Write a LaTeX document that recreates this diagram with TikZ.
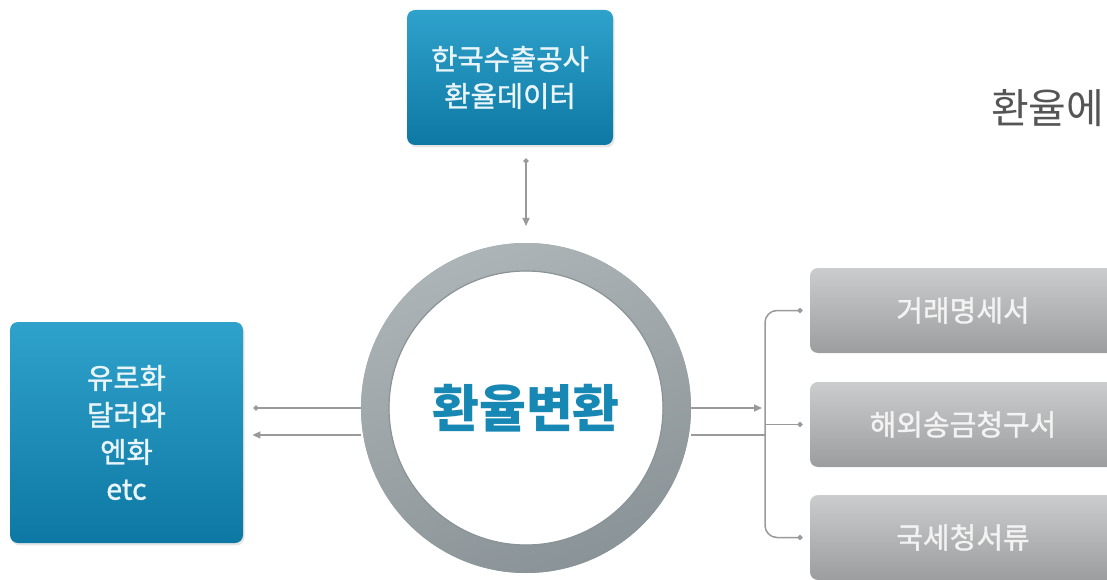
\documentclass[tikz,border=0pt]{standalone}
\usepackage{fontspec}
\setmainfont{Noto Sans CJK KR}
\newfontfamily\krmid{Noto Sans CJK KR}[FakeBold=1.2]
\usetikzlibrary{arrows.meta,shadows}
\definecolor{boxbluetop}{HTML}{2FA2CC}
\definecolor{boxbluebot}{HTML}{0D78A3}
\definecolor{docgraytop}{HTML}{CBCCCE}
\definecolor{docgraybot}{HTML}{9C9D9F}
\definecolor{ringgray}{HTML}{9DA5A8}
\definecolor{ringtop}{HTML}{ADB4B7}
\definecolor{ringbot}{HTML}{8A9397}
\definecolor{linegray}{HTML}{9A9A9A}
\definecolor{convblue}{HTML}{1787B3}
\definecolor{titlegray}{HTML}{555555}
\definecolor{boxtext}{HTML}{EAF5FA}
\definecolor{doctext}{HTML}{F3F3F3}

\begin{document}
\begin{tikzpicture}[x=0.5pt,y=0.5pt,
	bluebox/.style={rounded corners=4pt,top color=boxbluetop,bottom color=boxbluebot,text=boxtext,align=center,
		font=\krmid\fontsize{14.3}{18.5}\selectfont,drop shadow={opacity=0.2,shadow xshift=0.8pt,shadow yshift=-1.2pt}},
	docbox/.style={rounded corners=4pt,top color=docgraytop,bottom color=docgraybot,text=doctext,
		minimum width=153pt,minimum height=42.5pt,font=\krmid\fontsize{14.5}{16}\selectfont},
	conn/.style={linegray,line width=0.75pt,>={Triangle[length=4pt,width=3.5pt]}}]
			\useasboundingbox (0,0) rectangle (1107,579);
			\clip (0,0) rectangle (1107,579);
			\node[bluebox,minimum width=103pt,minimum height=67.5pt] (data) at (510,501.5) {한국수출공사\\환율데이터};
			\node[bluebox,minimum width=116.5pt,minimum height=110.5pt] (cur) at (126.5,146.5) {유로화\\달러와\\엔화\\etc};
			\node[circle,draw=ringgray,line width=14pt,fill=white,minimum size=151pt,inner sep=0pt,
				text=convblue,font=\fontsize{25.5}{26}\selectfont\bfseries] (conv) at (526,171) {환율변환};
			\shade[even odd rule,top color=ringtop,bottom color=ringbot,shading angle=20]
				(conv.center) circle (82.5pt) (conv.center) circle (68.5pt);
			\draw[ringbot,line width=0.6pt] (conv.center) circle (68.5pt);
			\node[docbox] (doc1) at (963,268.5) {거래명세서};
			\node[docbox] (doc2) at (963,154.5) {해외송금청구서};
			\node[docbox] (doc3) at (963,41.5) {국세청서류};
			\node[anchor=west,text=titlegray,font=\fontsize{20.5}{22}\selectfont] (title) at (984,471) {환율에};
			\coordinate (fork) at (765,171);
			\coordinate (lowW) at ([yshift=-13.5pt]conv.west);
			\coordinate (lowE) at ([yshift=-13.5pt]conv.east);
			\draw[conn,{Circle[length=2.6pt]}->] ([yshift=-6.5pt]conv.north |- data.south) -- ([yshift=8.5pt]conv.north);
			\draw[conn,-{Circle[length=2.6pt]}] (conv.west) -- ([xshift=5pt]cur.east |- conv.west);
			\draw[conn,->] (lowW) -- ([xshift=4.5pt]cur.east |- lowW);
			\draw[conn,->] (conv.east) -- ([xshift=-1.5pt]fork);
			\draw[conn] (lowE) -- (fork |- lowE);
			\draw[conn,rounded corners=6pt,{Circle[length=2.6pt]}-{Circle[length=2.6pt]}] ([xshift=-3.5pt]doc1.west) -| (fork) |- ([xshift=-3.5pt]doc3.west);
			\draw[conn,-{Circle[length=2.6pt]}] (fork |- doc2.west) -- ([xshift=-3.5pt]doc2.west);
		\end{tikzpicture}
\end{document}
